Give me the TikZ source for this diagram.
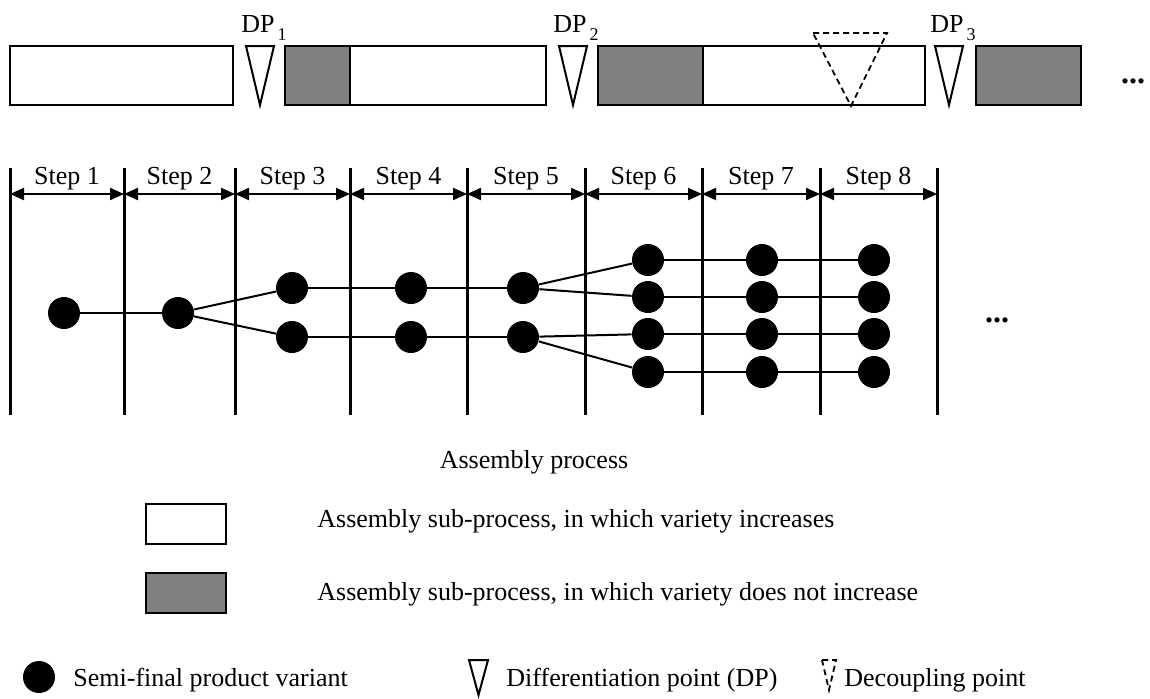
\documentclass[tikz,border=0pt]{standalone}
\usepackage{fontspec}
\setmainfont{Liberation Serif}
\usetikzlibrary{arrows.meta}

\tikzset{
    stage/.style={draw, line width=1pt},
    plain/.style={stage, fill=white},
    fixed/.style={stage, fill=black!50},
    dpmark/.style={draw, line width=1pt, line join=miter},
    decmark/.style={draw, line width=0.9pt, dash pattern=on 3pt off 2pt},
    variant/.style={circle, fill=black, minimum size=16pt, inner sep=0pt},
    stepline/.style={line width=1.5pt},
    steparrow/.style={line width=1pt, {Triangle[length=7pt,width=6pt]}-{Triangle[length=7pt,width=6pt]}},
    link/.style={line width=1pt},
    legtext/.style={anchor=base west, inner sep=0pt},
    more/.style={font=\fontsize{16}{16}\selectfont\bfseries},
}
\newcommand{\dpname}[1]{DP\kern1.5pt\raisebox{-4pt}{\fontsize{9}{9}\selectfont #1}}

\begin{document}
\begin{tikzpicture}[x=0.5pt, y=-0.5pt, font=\fontsize{13}{15}\selectfont]

    \useasboundingbox (0,0) rectangle (1150,698);

    \draw[plain] (10,46) rectangle (233,105);
    \draw[fixed] (285,46) rectangle (350,105);
    \draw[plain] (350,46) rectangle (546,105);
    \draw[fixed] (598,46) rectangle (703,105);
    \draw[plain] (703,46) rectangle (925,105);
    \draw[fixed] (976,46) rectangle (1081,105);

    \draw[dpmark] (246,46) -- (274,46) -- (260,105) -- cycle;
    \draw[dpmark] (559,46) -- (587,46) -- (573,105) -- cycle;
    \draw[dpmark] (935,46) -- (963,46) -- (949,105) -- cycle;
    \draw[decmark] (813,33) -- (887,33) -- (851,106) -- cycle;

    \node[legtext] (dp1) at (241,32) {\dpname{1}};
    \node[legtext] (dp2) at (553,32) {\dpname{2}};
    \node[legtext] (dp3) at (930,32) {\dpname{3}};
    \node[more] (moretop) at (1133,81) {...};

    \foreach \x [count=\i from 0] in {10,124,235,350,467,585,702,820,937} {
        \draw[stepline] (\x,168) -- (\x,415);
        \coordinate (t\i) at (\x,194);
    }
    \foreach \i in {1,...,8} {
        \pgfmathtruncatemacro{\p}{\i-1}
        \draw[steparrow] (t\p) -- (t\i) node[midway, above, inner sep=1.5pt] {Step \i};
    }

    \node[variant] (n11) at (64,313) {};
    \node[variant] (n21) at (178,313) {};
    \foreach \s/\x in {3/292,4/411,5/523} {
        \node[variant] (n\s1) at (\x,288) {};
        \node[variant] (n\s2) at (\x,337) {};
    }
    \foreach \s/\x in {6/648,7/762,8/874} {
        \foreach \r/\y in {1/260,2/297,3/334,4/372} {
            \node[variant] (n\s\r) at (\x,\y) {};
        }
    }
    \node[more] (moremid) at (997,320) {...};

    \draw[link] (n11) -- (n21);
    \draw[link] (n21) -- (n31);
    \draw[link] (n21) -- (n32);
    \draw[link] (n31) -- (n41) -- (n51);
    \draw[link] (n32) -- (n42) -- (n52);
    \draw[link] (n51) -- (n61);
    \draw[link] (n51) -- (n62);
    \draw[link] (n52) -- (n63);
    \draw[link] (n52) -- (n64);
    \foreach \r in {1,...,4} {
        \draw[link] (n6\r) -- (n7\r) -- (n8\r);
    }

    \node (process) at (534,462) {Assembly process};

    \draw[plain] (146,504) rectangle (226,544);
    \node[legtext] (legplain) at (317,527) {Assembly sub-process, in which variety increases};
    \draw[fixed] (146,573) rectangle (226,613);
    \node[legtext] (legfixed) at (317,600) {Assembly sub-process, in which variety does not increase};

    \node[variant] (legdot) at (39,677) {};
    \node[legtext] (legvariant) at (73,686) {Semi-final product variant};
    \draw[dpmark] (469,660) -- (488,660) -- (478.5,695) -- cycle;
    \node[legtext] (legdp) at (506,686) {Differentiation point (DP)};
    \draw[decmark] (822,660) -- (836,660) -- (829,690) -- cycle;
    \node[legtext] (legdec) at (844,686) {Decoupling point};

\end{tikzpicture}
\end{document}
